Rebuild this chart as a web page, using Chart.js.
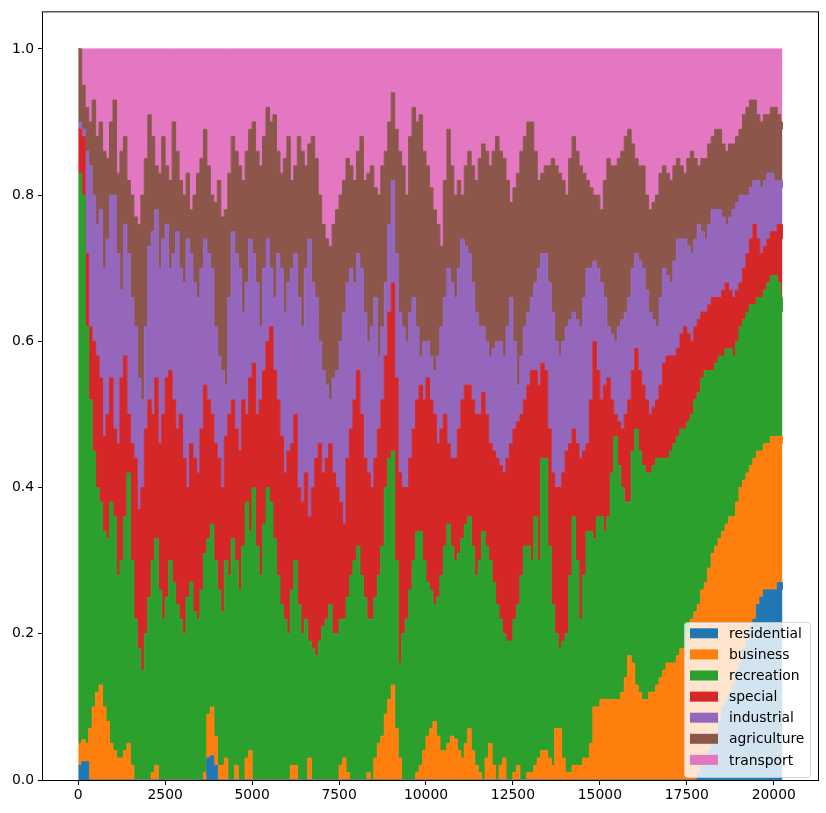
<!DOCTYPE html>
<html>
<head>
<meta charset="utf-8">
<script src="https://cdn.jsdelivr.net/npm/chart.js@4.4.1/dist/chart.umd.min.js"></script>
<style>
  html, body { margin: 0; padding: 0; background: #fff; }
  canvas { display: block; }
</style>
</head>
<body>
<canvas id="chart" width="826" height="813"></canvas>
<script>
// x positions of the samples (read every ~100 along the axis)
const xs = [
  0, 100, 200, 300, 400, 500, 600, 700, 800, 900,
  1000, 1100, 1200, 1300, 1400, 1500, 1600, 1700, 1800, 1900,
  2000, 2100, 2200, 2300, 2400, 2500, 2600, 2700, 2800, 2900,
  3000, 3100, 3200, 3300, 3400, 3500, 3600, 3700, 3800, 3900,
  4000, 4100, 4200, 4300, 4400, 4500, 4600, 4700, 4800, 4900,
  5000, 5100, 5200, 5300, 5400, 5500, 5600, 5700, 5800, 5900,
  6000, 6100, 6200, 6300, 6400, 6500, 6600, 6700, 6800, 6900,
  7000, 7100, 7200, 7300, 7400, 7500, 7600, 7700, 7800, 7900,
  8000, 8100, 8200, 8300, 8400, 8500, 8600, 8700, 8800, 8900,
  9000, 9100, 9200, 9300, 9400, 9500, 9600, 9700, 9800, 9900,
  10000, 10100, 10200, 10300, 10400, 10500, 10600, 10700, 10800, 10900,
  11000, 11100, 11200, 11300, 11400, 11500, 11600, 11700, 11800, 11900,
  12000, 12100, 12200, 12300, 12400, 12500, 12600, 12700, 12800, 12900,
  13000, 13100, 13200, 13300, 13400, 13500, 13600, 13700, 13800, 13900,
  14000, 14100, 14200, 14300, 14400, 14500, 14600, 14700, 14800, 14900,
  15000, 15100, 15200, 15300, 15400, 15500, 15600, 15700, 15800, 15900,
  16000, 16100, 16200, 16300, 16400, 16500, 16600, 16700, 16800, 16900,
  17000, 17100, 17200, 17300, 17400, 17500, 17600, 17700, 17800, 17900,
  18000, 18100, 18200, 18300, 18400, 18500, 18600, 18700, 18800, 18900,
  19000, 19100, 19200, 19300, 19400, 19500, 19600, 19700, 19800, 19900,
  20000, 20100, 20200, 20250
];

// share of each land use at each sample (stacked, sums to 1)
const residential = [
  0.02, 0.025, 0.025, 0, 0, 0, 0, 0, 0, 0,
  0, 0, 0, 0, 0, 0, 0, 0, 0, 0,
  0, 0, 0, 0, 0, 0, 0, 0, 0, 0,
  0, 0, 0, 0, 0, 0, 0, 0.03, 0.033, 0.02,
  0, 0, 0, 0, 0, 0, 0, 0, 0, 0,
  0, 0, 0, 0, 0, 0, 0, 0, 0, 0,
  0, 0, 0, 0, 0, 0, 0, 0, 0, 0,
  0, 0, 0, 0, 0, 0, 0, 0, 0, 0,
  0, 0, 0, 0, 0, 0, 0, 0, 0, 0,
  0, 0, 0, 0, 0, 0, 0, 0, 0, 0,
  0, 0, 0, 0, 0, 0, 0, 0, 0, 0,
  0, 0, 0, 0, 0, 0, 0, 0, 0, 0,
  0, 0, 0, 0, 0, 0, 0, 0, 0, 0,
  0, 0, 0, 0, 0, 0, 0, 0, 0, 0,
  0, 0, 0, 0, 0, 0, 0, 0, 0, 0,
  0, 0, 0, 0, 0, 0, 0, 0, 0, 0,
  0, 0, 0, 0, 0, 0, 0, 0, 0, 0,
  0, 0, 0, 0, 0, 0, 0, 0, 0.01, 0.02,
  0.03, 0.04, 0.05, 0.06, 0.08, 0.10, 0.11, 0.12, 0.13, 0.15,
  0.16, 0.18, 0.19, 0.21, 0.22, 0.24, 0.25, 0.26, 0.26, 0.26,
  0.26, 0.27, 0.27, 0.26
];
const business = [
  0.03, 0.03, 0.025, 0.07, 0.10, 0.12, 0.13, 0.10, 0.08, 0.05,
  0.04, 0.03, 0.03, 0.04, 0.05, 0.02, 0, 0, 0, 0,
  0, 0.01, 0.02, 0, 0, 0, 0, 0, 0, 0,
  0, 0, 0, 0, 0, 0, 0.01, 0.06, 0.067, 0.04,
  0.02, 0.02, 0.03, 0, 0, 0.02, 0, 0, 0.03, 0.04,
  0, 0, 0, 0, 0, 0, 0, 0, 0, 0,
  0, 0.02, 0.02, 0, 0, 0, 0.03, 0, 0, 0,
  0, 0, 0, 0, 0, 0.02, 0.03, 0.01, 0, 0,
  0, 0, 0, 0.01, 0, 0.03, 0.05, 0.06, 0.09, 0.11,
  0.13, 0.07, 0.03, 0, 0, 0, 0, 0.01, 0.02, 0.04,
  0.06, 0.07, 0.08, 0.06, 0.04, 0.04, 0.05, 0.06, 0.056, 0.04,
  0.03, 0.05, 0.07, 0.04, 0.02, 0.01, 0, 0.03, 0.05, 0.02,
  0, 0.02, 0.03, 0, 0, 0.01, 0.02, 0, 0, 0.01,
  0.01, 0.02, 0.03, 0.04, 0.04, 0.03, 0.02, 0.07, 0.07, 0.03,
  0.01, 0.01, 0.02, 0.02, 0.02, 0.03, 0.03, 0.05, 0.10, 0.10,
  0.11, 0.11, 0.11, 0.11, 0.11, 0.11, 0.12, 0.14, 0.17, 0.16,
  0.13, 0.12, 0.11, 0.11, 0.12, 0.12, 0.13, 0.14, 0.15, 0.16,
  0.16, 0.16, 0.17, 0.18, 0.18, 0.20, 0.22, 0.23, 0.23, 0.24,
  0.24, 0.25, 0.26, 0.26, 0.25, 0.24, 0.24, 0.24, 0.23, 0.23,
  0.24, 0.23, 0.23, 0.22, 0.22, 0.21, 0.20, 0.20, 0.20, 0.21,
  0.21, 0.20, 0.20, 0.20
];
const recreation = [
  0.78, 0.745, 0.57, 0.45, 0.35, 0.28, 0.25, 0.24, 0.25, 0.33,
  0.32, 0.25, 0.27, 0.32, 0.37, 0.28, 0.22, 0.18, 0.15, 0.20,
  0.25, 0.29, 0.31, 0.26, 0.22, 0.25, 0.30, 0.27, 0.24, 0.22,
  0.20, 0.25, 0.27, 0.23, 0.22, 0.26, 0.30, 0.24, 0.25, 0.24,
  0.24, 0.21, 0.27, 0.28, 0.33, 0.28, 0.26, 0.32, 0.35, 0.30,
  0.40, 0.32, 0.28, 0.35, 0.40, 0.38, 0.33, 0.28, 0.24, 0.22,
  0.20, 0.24, 0.28, 0.24, 0.20, 0.22, 0.16, 0.18, 0.17, 0.19,
  0.21, 0.22, 0.24, 0.20, 0.20, 0.20, 0.19, 0.24, 0.28, 0.30,
  0.32, 0.28, 0.25, 0.21, 0.22, 0.22, 0.23, 0.26, 0.31, 0.33,
  0.32, 0.23, 0.13, 0.20, 0.22, 0.26, 0.30, 0.33, 0.32, 0.26,
  0.21, 0.19, 0.16, 0.19, 0.24, 0.28, 0.30, 0.26, 0.244, 0.27,
  0.30, 0.30, 0.29, 0.28, 0.26, 0.29, 0.34, 0.29, 0.25, 0.25,
  0.24, 0.20, 0.17, 0.19, 0.19, 0.21, 0.22, 0.28, 0.32, 0.31,
  0.29, 0.34, 0.27, 0.40, 0.40, 0.29, 0.22, 0.13, 0.11, 0.16,
  0.19, 0.27, 0.34, 0.28, 0.20, 0.25, 0.31, 0.29, 0.23, 0.26,
  0.25, 0.23, 0.25, 0.31, 0.36, 0.32, 0.28, 0.24, 0.21, 0.29,
  0.35, 0.33, 0.32, 0.31, 0.30, 0.31, 0.31, 0.30, 0.29, 0.28,
  0.29, 0.30, 0.30, 0.30, 0.30, 0.29, 0.28, 0.29, 0.29, 0.29,
  0.29, 0.27, 0.25, 0.25, 0.25, 0.24, 0.24, 0.23, 0.22, 0.22,
  0.22, 0.22, 0.22, 0.22, 0.21, 0.21, 0.21, 0.21, 0.22, 0.22,
  0.22, 0.21, 0.19, 0.18
];
const special = [
  0.06, 0.08, 0.10, 0.10, 0.15, 0.18, 0.17, 0.13, 0.17, 0.17,
  0.12, 0.18, 0.25, 0.22, 0.08, 0.16, 0.22, 0.19, 0.25, 0.28,
  0.27, 0.20, 0.22, 0.20, 0.28, 0.30, 0.26, 0.25, 0.24, 0.28,
  0.24, 0.15, 0.19, 0.21, 0.20, 0.22, 0.23, 0.19, 0.15, 0.16,
  0.18, 0.17, 0.17, 0.22, 0.19, 0.18, 0.19, 0.20, 0.12, 0.21,
  0.17, 0.18, 0.24, 0.21, 0.20, 0.24, 0.23, 0.24, 0.23, 0.20,
  0.25, 0.20, 0.20, 0.16, 0.18, 0.20, 0.17, 0.22, 0.27, 0.27,
  0.21, 0.22, 0.22, 0.22, 0.20, 0.16, 0.13, 0.19, 0.20, 0.22,
  0.24, 0.22, 0.19, 0.20, 0.18, 0.19, 0.20, 0.20, 0.18, 0.20,
  0.23, 0.25, 0.26, 0.20, 0.18, 0.18, 0.18, 0.18, 0.20, 0.22,
  0.28, 0.26, 0.26, 0.21, 0.20, 0.18, 0.11, 0.12, 0.14, 0.17,
  0.19, 0.19, 0.18, 0.20, 0.22, 0.20, 0.19, 0.18, 0.16, 0.18,
  0.20, 0.21, 0.22, 0.25, 0.27, 0.26, 0.25, 0.22, 0.20, 0.22,
  0.26, 0.20, 0.24, 0.13, 0.12, 0.16, 0.18, 0.20, 0.22, 0.23,
  0.25, 0.18, 0.12, 0.16, 0.22, 0.17, 0.12, 0.18, 0.27, 0.20,
  0.16, 0.20, 0.19, 0.10, 0.03, 0.06, 0.08, 0.12, 0.14, 0.11,
  0.11, 0.11, 0.11, 0.10, 0.08, 0.08, 0.08, 0.10, 0.13, 0.14,
  0.13, 0.12, 0.12, 0.13, 0.14, 0.12, 0.10, 0.10, 0.10, 0.09,
  0.08, 0.09, 0.10, 0.09, 0.08, 0.09, 0.09, 0.08, 0.08, 0.07,
  0.06, 0.07, 0.08, 0.09, 0.11, 0.08, 0.06, 0.06, 0.06, 0.06,
  0.06, 0.08, 0.10, 0.10
];
const industrial = [
  0.01, 0.01, 0.14, 0.22, 0.20, 0.18, 0.23, 0.23, 0.24, 0.25,
  0.32, 0.26, 0.12, 0.18, 0.22, 0.20, 0.18, 0.18, 0.12, 0.14,
  0.21, 0.25, 0.23, 0.24, 0.24, 0.21, 0.14, 0.20, 0.27, 0.20,
  0.24, 0.34, 0.26, 0.24, 0.24, 0.22, 0.20, 0.20, 0.20, 0.16,
  0.14, 0.16, 0.07, 0.16, 0.23, 0.24, 0.25, 0.12, 0.18, 0.19,
  0.15, 0.18, 0.10, 0.14, 0.14, 0.08, 0.10, 0.20, 0.23, 0.22,
  0.23, 0.24, 0.22, 0.26, 0.24, 0.28, 0.38, 0.28, 0.22, 0.14,
  0.14, 0.10, 0.06, 0.13, 0.16, 0.22, 0.29, 0.24, 0.22, 0.16,
  0.16, 0.20, 0.20, 0.18, 0.22, 0.22, 0.10, 0.10, 0.10, 0.12,
  0.14, 0.17, 0.22, 0.22, 0.20, 0.20, 0.18, 0.10, 0.04, 0.08,
  0.05, 0.06, 0.06, 0.12, 0.14, 0.16, 0.24, 0.24, 0.22, 0.22,
  0.22, 0.19, 0.18, 0.16, 0.14, 0.12, 0.09, 0.10, 0.12, 0.14,
  0.16, 0.17, 0.16, 0.18, 0.20, 0.12, 0.05, 0.08, 0.10, 0.10,
  0.10, 0.12, 0.16, 0.15, 0.16, 0.20, 0.22, 0.20, 0.18, 0.18,
  0.17, 0.17, 0.16, 0.17, 0.18, 0.21, 0.24, 0.18, 0.11, 0.14,
  0.16, 0.12, 0.07, 0.09, 0.10, 0.13, 0.15, 0.14, 0.14, 0.14,
  0.13, 0.15, 0.16, 0.15, 0.14, 0.12, 0.10, 0.12, 0.13, 0.11,
  0.10, 0.13, 0.15, 0.13, 0.12, 0.12, 0.12, 0.12, 0.13, 0.11,
  0.10, 0.11, 0.12, 0.12, 0.12, 0.10, 0.08, 0.10, 0.12, 0.12,
  0.12, 0.10, 0.08, 0.07, 0.06, 0.08, 0.09, 0.09, 0.09, 0.08,
  0.07, 0.06, 0.06, 0.07
];
const agriculture = [
  0.10, 0.06, 0.06, 0.06, 0.13, 0.12, 0.12, 0.16, 0.11, 0.10,
  0.13, 0.11, 0.19, 0.12, 0.10, 0.14, 0.15, 0.21, 0.28, 0.23,
  0.18, 0.13, 0.06, 0.13, 0.14, 0.08, 0.12, 0.18, 0.11, 0.12,
  0.12, 0.09, 0.06, 0.12, 0.17, 0.15, 0.15, 0.12, 0.10, 0.17,
  0.24, 0.21, 0.24, 0.17, 0.13, 0.14, 0.14, 0.18, 0.18, 0.15,
  0.18, 0.18, 0.22, 0.18, 0.18, 0.20, 0.25, 0.14, 0.13, 0.21,
  0.20, 0.12, 0.12, 0.22, 0.24, 0.14, 0.13, 0.20, 0.19, 0.20,
  0.20, 0.20, 0.21, 0.21, 0.22, 0.20, 0.18, 0.17, 0.14, 0.14,
  0.14, 0.18, 0.18, 0.23, 0.22, 0.15, 0.22, 0.22, 0.18, 0.14,
  0.12, 0.17, 0.22, 0.22, 0.20, 0.24, 0.26, 0.28, 0.33, 0.26,
  0.24, 0.23, 0.22, 0.18, 0.11, 0.16, 0.19, 0.16, 0.14, 0.12,
  0.06, 0.11, 0.14, 0.16, 0.18, 0.23, 0.25, 0.26, 0.26, 0.27,
  0.28, 0.26, 0.27, 0.20, 0.13, 0.21, 0.29, 0.28, 0.26, 0.26,
  0.24, 0.18, 0.12, 0.11, 0.12, 0.16, 0.21, 0.24, 0.25, 0.22,
  0.18, 0.22, 0.24, 0.23, 0.22, 0.17, 0.12, 0.11, 0.09, 0.10,
  0.10, 0.16, 0.23, 0.23, 0.24, 0.23, 0.23, 0.24, 0.23, 0.17,
  0.13, 0.13, 0.14, 0.13, 0.14, 0.16, 0.18, 0.17, 0.14, 0.14,
  0.14, 0.13, 0.11, 0.10, 0.09, 0.12, 0.14, 0.11, 0.08, 0.10,
  0.11, 0.11, 0.10, 0.11, 0.11, 0.10, 0.10, 0.10, 0.09, 0.09,
  0.09, 0.11, 0.12, 0.12, 0.11, 0.09, 0.09, 0.09, 0.08, 0.09,
  0.10, 0.09, 0.08, 0.08
];
const transport = [
  0, 0.05, 0.08, 0.10, 0.07, 0.12, 0.10, 0.14, 0.15, 0.10,
  0.07, 0.17, 0.14, 0.12, 0.18, 0.20, 0.23, 0.24, 0.20, 0.15,
  0.09, 0.12, 0.16, 0.17, 0.12, 0.16, 0.18, 0.10, 0.14, 0.18,
  0.20, 0.17, 0.22, 0.20, 0.17, 0.15, 0.11, 0.16, 0.20, 0.21,
  0.18, 0.23, 0.22, 0.17, 0.12, 0.14, 0.16, 0.18, 0.14, 0.11,
  0.10, 0.14, 0.16, 0.12, 0.08, 0.10, 0.09, 0.14, 0.17, 0.15,
  0.12, 0.18, 0.16, 0.12, 0.14, 0.16, 0.13, 0.12, 0.15, 0.20,
  0.24, 0.26, 0.27, 0.24, 0.22, 0.20, 0.18, 0.15, 0.16, 0.18,
  0.14, 0.12, 0.18, 0.17, 0.16, 0.19, 0.20, 0.16, 0.14, 0.10,
  0.06, 0.11, 0.14, 0.16, 0.20, 0.12, 0.08, 0.10, 0.09, 0.14,
  0.16, 0.19, 0.22, 0.24, 0.27, 0.18, 0.11, 0.16, 0.20, 0.18,
  0.20, 0.16, 0.14, 0.16, 0.18, 0.15, 0.13, 0.14, 0.16, 0.14,
  0.12, 0.14, 0.15, 0.18, 0.21, 0.19, 0.17, 0.14, 0.12, 0.10,
  0.10, 0.14, 0.18, 0.17, 0.16, 0.16, 0.15, 0.16, 0.17, 0.18,
  0.20, 0.15, 0.12, 0.14, 0.16, 0.17, 0.18, 0.19, 0.20, 0.20,
  0.22, 0.18, 0.15, 0.16, 0.16, 0.15, 0.14, 0.12, 0.11, 0.13,
  0.15, 0.16, 0.16, 0.20, 0.22, 0.21, 0.20, 0.17, 0.16, 0.17,
  0.18, 0.16, 0.15, 0.16, 0.17, 0.15, 0.14, 0.15, 0.16, 0.15,
  0.15, 0.13, 0.12, 0.11, 0.11, 0.13, 0.14, 0.13, 0.13, 0.12,
  0.11, 0.09, 0.08, 0.07, 0.07, 0.09, 0.10, 0.09, 0.09, 0.08,
  0.08, 0.09, 0.10, 0.11
];

const labels = ['residential', 'business', 'recreation', 'special', 'industrial', 'agriculture', 'transport'];
const series = [residential, business, recreation, special, industrial, agriculture, transport];
const colors = ['#1f77b4', '#ff7f0e', '#2ca02c', '#d62728', '#9467bd', '#8c564b', '#e377c2'];

const xTicks = [0, 2500, 5000, 7500, 10000, 12500, 15000, 17500, 20000];
const yTicks = [0, 0.2, 0.4, 0.6, 0.8, 1.0];

const font = { family: 'DejaVu Sans', size: 13.9 };

// axes frame (top/right spines too)
const frame = {
    id: 'frame',
    afterDatasetsDraw(chart) {
        const { ctx, chartArea: a } = chart;
        ctx.save();
        ctx.strokeStyle = '#000';
        ctx.lineWidth = 1;
        ctx.strokeRect(a.left - 0.5, a.top - 0.5, a.right - a.left + 1, a.bottom - a.top + 1);
        ctx.restore();
    }
};

// matplotlib-like legend in the lower right corner
const boxLegend = {
    id: 'boxLegend',
    afterDraw(chart) {
        const { ctx, chartArea: a } = chart;
        const w = 126, h = 155;
        const x = a.right - 8 - w, y = a.bottom - 3 - h;
        ctx.save();
        ctx.beginPath();
        if (ctx.roundRect) ctx.roundRect(x + 0.5, y + 0.5, w, h, 3);
        else ctx.rect(x + 0.5, y + 0.5, w, h);
        ctx.fillStyle = 'rgba(255,255,255,0.8)';
        ctx.fill();
        ctx.strokeStyle = 'rgba(204,204,204,0.8)';
        ctx.lineWidth = 1;
        ctx.stroke();
        ctx.font = font.size + 'px ' + font.family;
        ctx.textBaseline = 'middle';
        chart.data.datasets.forEach((ds, k) => {
            const cy = y + 11.3 + k * 21.1;
            ctx.fillStyle = ds.backgroundColor;
            ctx.fillRect(x + 6, cy - 5, 28, 10);
            ctx.fillStyle = '#000';
            ctx.fillText(ds.label, x + 45, cy + 1);
        });
        ctx.restore();
    }
};

new Chart(document.getElementById('chart'), {
    type: 'line',
    data: {
        datasets: series.map((vals, k) => ({
            label: labels[k],
            data: xs.map((x, i) => ({ x: x, y: vals[i] })),
            backgroundColor: colors[k],
            borderColor: colors[k],
            borderWidth: 1,
            pointRadius: 0,
            stepped: true,
            fill: k === 0 ? 'origin' : '-1'
        }))
    },
    options: {
        responsive: false,
        animation: false,
        layout: { padding: { left: 0, right: 8, top: 9, bottom: 0 } },
        plugins: {
            legend: { display: false },
            tooltip: { enabled: false }
        },
        scales: {
            x: {
                type: 'linear',
                min: -1013,
                max: 21272,
                afterBuildTicks: axis => { axis.ticks = xTicks.map(v => ({ value: v })); },
                afterFit: axis => { axis.height = 33; },
                grid: { drawOnChartArea: false, drawTicks: true, tickLength: 5, tickColor: '#000' },
                border: { display: false },
                ticks: { font: font, color: '#000', padding: 2, maxRotation: 0, callback: v => String(v) }
            },
            y: {
                stacked: true,
                min: 0,
                max: 1.05,
                afterBuildTicks: axis => { axis.ticks = yTicks.map(v => ({ value: v })); },
                afterFit: axis => { axis.width = 43; },
                grid: { drawOnChartArea: false, drawTicks: true, tickLength: 5, tickColor: '#000' },
                border: { display: false },
                ticks: { font: font, color: '#000', padding: 4, callback: v => v.toFixed(1) }
            }
        }
    },
    plugins: [frame, boxLegend]
});
</script>
</body>
</html>
